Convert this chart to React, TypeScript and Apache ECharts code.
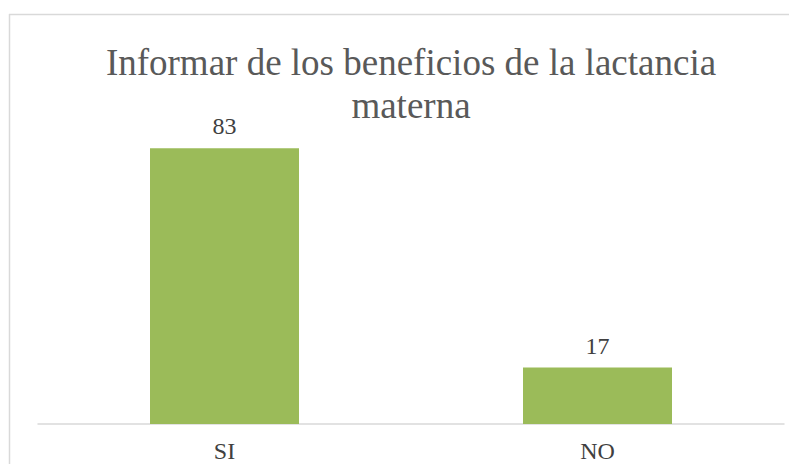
import React, { useEffect, useRef } from "react";
import * as echarts from "echarts";

const categories = ["SI", "NO"];
const values = [83, 17];
const titleText = "Informar de los beneficios de la lactancia\nmaterna";

const SERIF = "'Liberation Serif', 'Times New Roman', 'DejaVu Serif', serif";

export default function App() {
  const ref = useRef<HTMLDivElement>(null);
  useEffect(() => {
    if (!ref.current) return;
    document.body.style.margin = "0";
    const chart = echarts.init(ref.current, undefined, { renderer: "svg" });
    chart.setOption({
      animation: false,
      backgroundColor: "#ffffff",
      textStyle: { fontFamily: SERIF },
      graphic: [
        {
          type: "line",
          shape: { x1: 9.5, y1: 14, x2: 9.5, y2: 464 },
          style: { stroke: "#d9d9d9", lineWidth: 1.5 },
          silent: true,
        },
        {
          type: "line",
          shape: { x1: 9, y1: 14.5, x2: 789, y2: 14.5 },
          style: { stroke: "#d9d9d9", lineWidth: 1.5 },
          silent: true,
        },
      ],
      title: {
        text: titleText,
        left: 406,
        top: 36,
        textAlign: "center",
        textStyle: {
          fontFamily: SERIF,
          fontSize: 37,
          fontWeight: "normal",
          color: "#595959",
          lineHeight: 43,
        },
      },
      grid: { left: 38, right: 5, top: 125, bottom: 40 },
      xAxis: {
        type: "category",
        data: categories,
        axisLine: { lineStyle: { color: "#d9d9d9", width: 1.5 } },
        axisTick: { show: false },
        axisLabel: {
          fontFamily: SERIF,
          fontSize: 24,
          color: "#404040",
          margin: 15,
        },
      },
      yAxis: {
        type: "value",
        min: 0,
        max: 90,
        show: false,
        splitLine: { show: false },
      },
      series: [
        {
          type: "bar",
          data: values,
          barWidth: 149,
          itemStyle: { color: "#9bbb59" },
          label: {
            show: true,
            position: "top",
            distance: 10,
            fontFamily: SERIF,
            fontSize: 24,
            color: "#404040",
          },
        },
      ],
    });
    return () => chart.dispose();
  }, []);
  return (
    <div
      ref={ref}
      style={{ position: "absolute", left: 0, top: 0, width: 789, height: 464, overflow: "hidden" }}
    />
  );
}
